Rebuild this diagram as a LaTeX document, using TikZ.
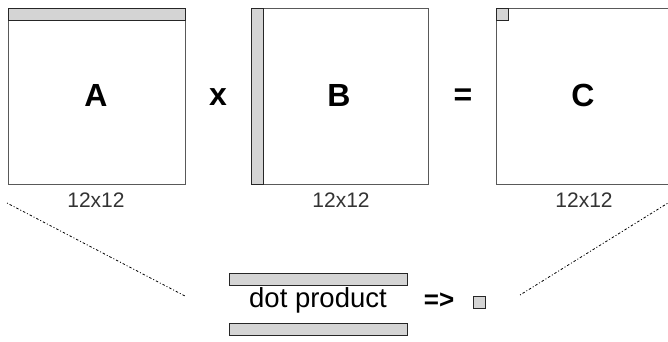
\documentclass[tikz,border=0pt]{standalone}
\usepackage{fontspec}
\setmainfont{Liberation Sans}
\begin{document}
\begin{tikzpicture}[x=1pt,y=-1pt,
  matbox/.style={draw=black!65,line width=1pt,fill=white,minimum width=177pt,minimum height=176pt,inner sep=0pt,outer sep=0pt},
  bar/.style={draw=black!85,line width=1pt,fill=black!17,inner sep=0pt,outer sep=0pt},
  bigletter/.style={font=\fontsize{32}{38}\selectfont\bfseries,inner sep=0pt},
  dimlabel/.style={font=\fontsize{21}{25}\selectfont,text=black!80,inner sep=0pt},
  guide/.style={line width=0.8pt,dash pattern=on 1pt off 2pt on 2.5pt off 2pt}]
  \useasboundingbox (0,0) rectangle (668,341);

  % the three matrices
  \node[matbox] (A) at (96.5,96) {};
  \node[matbox] (B) at (340,96) {};
  \node[matbox] (C) at (584.5,96) {};

  % highlighted row, column and element
  \node[bar,minimum width=177pt,minimum height=12pt,anchor=north west] (rowA) at (A.north west) {};
  \node[bar,minimum width=12pt,minimum height=176pt,anchor=north west] (colB) at (B.north west) {};
  \node[bar,minimum width=12pt,minimum height=12pt,anchor=north west] (elC) at (C.north west) {};

  % names and operators
  \node[bigletter] (nA) at (96,95) {A};
  \node[bigletter] (times) at (218,97) {x};
  \node[bigletter] (nB) at (339,95) {B};
  \node[bigletter] (eq) at (463,97) {=};
  \node[bigletter] (nC) at (583,95) {C};

  % sizes
  \node[dimlabel] (sA) at (96,200) {12x12};
  \node[dimlabel] (sB) at (341,200) {12x12};
  \node[dimlabel] (sC) at (584,200) {12x12};

  % dot product detail
  \node[bar,minimum width=178pt,minimum height=12pt] (r1) at (318,279) {};
  \node[font=\fontsize{27.5}{32}\selectfont,inner sep=0pt] (dp) at (318,300) {dot product};
  \node[bar,minimum width=178pt,minimum height=12pt] (r2) at (318,329.5) {};
  \node[font=\fontsize{26}{30}\selectfont\bfseries,inner sep=0pt] (arr) at (439,301) {=>};
  \node[bar,minimum width=12pt,minimum height=12pt] (el) at (479.5,302) {};

  % guide lines down to the detail
  \coordinate (gl1) at (7,203);
  \coordinate (gl2) at (185,296);
  \coordinate (gr1) at (520,295);
  \coordinate (gr2) at (668,203);
  \draw[guide] (gl1) -- (gl2);
  \draw[guide] (gr1) -- (gr2);
\end{tikzpicture}
\end{document}
